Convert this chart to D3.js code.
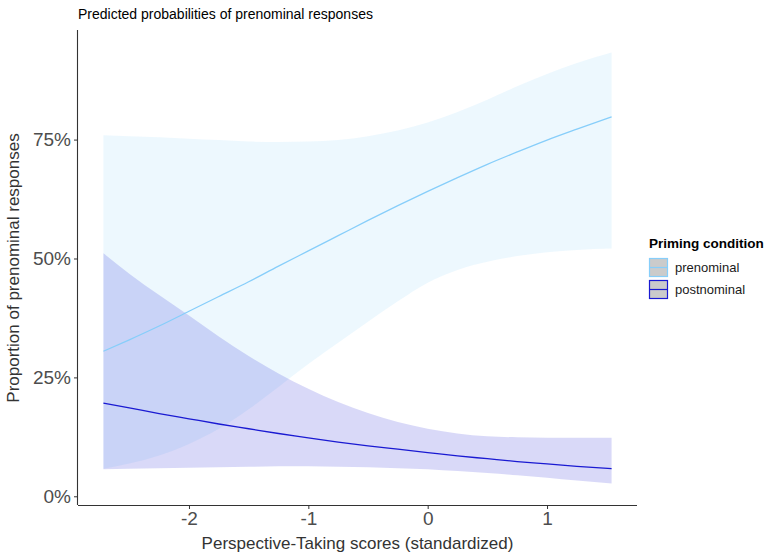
<!DOCTYPE html>
<html>
<head>
<meta charset="utf-8">
<script src="https://cdn.jsdelivr.net/npm/d3@7"></script>
<style>
  body { margin: 0; background: #fff; }
  text { font-family: "Liberation Sans", Arial, sans-serif; }
  .axis path, .axis line { stroke: #333; }
  .axis text { fill: #4d4d4d; font-size: 19px; }
</style>
</head>
<body>
<svg id="chart"></svg>
<script>
// perspective-taking score grid (standardized)
const xVals = [-2.717, -2.5, -2.25, -2, -1.75, -1.5, -1.25, -1, -0.75, -0.5, -0.25, 0, 0.25, 0.5, 0.75, 1, 1.25, 1.541];

// prenominal priming: fitted probability and CI
const preFit = [0.305, 0.329, 0.358, 0.389, 0.420, 0.451, 0.484, 0.516, 0.548, 0.580, 0.611, 0.641, 0.670, 0.698, 0.724, 0.749, 0.772, 0.798];
const preLow = [0.058, 0.069, 0.086, 0.110, 0.142, 0.183, 0.230, 0.278, 0.323, 0.367, 0.410, 0.449, 0.476, 0.493, 0.505, 0.513, 0.518, 0.521];
const preHigh = [0.759, 0.757, 0.755, 0.752, 0.749, 0.746, 0.745, 0.746, 0.749, 0.757, 0.769, 0.786, 0.808, 0.834, 0.862, 0.888, 0.911, 0.933];

// postnominal priming
const postFit = [0.196, 0.186, 0.174, 0.163, 0.152, 0.142, 0.132, 0.123, 0.114, 0.106, 0.099, 0.092, 0.085, 0.079, 0.073, 0.068, 0.063, 0.058];
const postLow = [0.057, 0.058, 0.059, 0.060, 0.061, 0.062, 0.063, 0.063, 0.062, 0.061, 0.059, 0.057, 0.053, 0.049, 0.044, 0.039, 0.033, 0.027];
const postHigh = [0.511, 0.468, 0.423, 0.380, 0.336, 0.295, 0.258, 0.226, 0.198, 0.175, 0.156, 0.142, 0.132, 0.126, 0.124, 0.123, 0.123, 0.123];

const groups = ["prenominal", "postnominal"];
const xTicks = [-2, -1, 0, 1];
const yTicks = [0, 0.25, 0.5, 0.75];

const lineColor = { prenominal: "#87cefa", postnominal: "#1a1ad2" };
const fillColor = { prenominal: "#87cefa", postnominal: "#0000cd" };

const series = [
  { name: "prenominal", fit: preFit, low: preLow, high: preHigh },
  { name: "postnominal", fit: postFit, low: postLow, high: postHigh }
].map(s => ({
  name: s.name,
  values: xVals.map((x, i) => ({ x: x, fit: s.fit[i], low: s.low[i], high: s.high[i] }))
}));

const svgWidth = 765, svgHeight = 553;
const margin = { top: 31, right: 128, bottom: 48, left: 78 };

const svg = d3.select("#chart")
  .attr("width", svgWidth)
  .attr("height", svgHeight);

// ggplot style 5% expansion on both axes
const xExt = d3.extent(xVals);
const xPad = (xExt[1] - xExt[0]) * 0.05;
const allY = preLow.concat(preHigh, postLow, postHigh);
const yExt = d3.extent(allY);
const yPad = (yExt[1] - yExt[0]) * 0.05;

const xScale = d3.scaleLinear()
  .domain([xExt[0] - xPad, xExt[1] + xPad])
  .range([margin.left, svgWidth - margin.right]);

const yScale = d3.scaleLinear()
  .domain([yExt[0] - yPad, yExt[1] + yPad])
  .range([svgHeight - margin.bottom, margin.top]);

const area = d3.area()
  .x(d => xScale(d.x))
  .y0(d => yScale(d.low))
  .y1(d => yScale(d.high))
  .curve(d3.curveMonotoneX);

const line = d3.line()
  .x(d => xScale(d.x))
  .y(d => yScale(d.fit))
  .curve(d3.curveMonotoneX);

svg.selectAll(".ribbon")
  .data(series)
  .enter()
  .append("path")
  .attr("class", "ribbon")
  .attr("d", d => area(d.values))
  .attr("fill", d => fillColor[d.name])
  .attr("fill-opacity", 0.15);

svg.selectAll(".fit")
  .data(series)
  .enter()
  .append("path")
  .attr("class", "fit")
  .attr("d", d => line(d.values))
  .attr("fill", "none")
  .attr("stroke", d => lineColor[d.name])
  .attr("stroke-width", 1.3);

// axes
const xAxis = d3.axisBottom(xScale)
  .tickValues(xTicks)
  .tickSize(4)
  .tickPadding(3)
  .tickFormat(d => String(d));//plain hyphen like R

svg.append("g")
  .attr("class", "axis")
  .attr("transform", `translate(0, ${svgHeight - margin.bottom})`)
  .call(xAxis)
  .call(g => g.select(".domain").attr("d", `M${margin.left},0.5H${svgWidth - margin.right}`).attr("stroke-width", 1.1));

const yAxis = d3.axisLeft(yScale)
  .tickValues(yTicks)
  .tickSize(4)
  .tickPadding(3)
  .tickFormat(d3.format(".0%"));

svg.append("g")
  .attr("class", "axis")
  .attr("transform", `translate(${margin.left}, 0)`)
  .call(yAxis)
  .call(g => g.select(".domain").attr("d", `M-0.5,${margin.top - 1}V${svgHeight - margin.bottom}`).attr("stroke-width", 1.1));

svg.selectAll(".axis text").style("font-family", "'Liberation Sans', Arial, sans-serif");

// titles
svg.append("text")
  .attr("x", margin.left)
  .attr("y", 19)
  .attr("font-size", "14px")
  .attr("fill", "#000")
  .text("Predicted probabilities of prenominal responses");

svg.append("text")
  .attr("x", (margin.left + svgWidth - margin.right) / 2)
  .attr("y", 549)
  .attr("text-anchor", "middle")
  .attr("font-size", "17px")
  .attr("fill", "#333")
  .text("Perspective-Taking scores (standardized)");

svg.append("text")
  .attr("transform", "rotate(-90)")
  .attr("x", -268)
  .attr("y", 19)
  .attr("text-anchor", "middle")
  .attr("font-size", "17px")
  .attr("fill", "#333")
  .text("Proportion of prenominal responses");

// legend
const legend = svg.append("g")
  .attr("transform", "translate(649, 0)");

legend.append("text")
  .attr("x", 0)
  .attr("y", 248)
  .attr("font-size", "13.5px")
  .attr("font-weight", "bold")
  .text("Priming condition");

const keys = legend.selectAll(".key")
  .data(groups)
  .enter()
  .append("g")
  .attr("class", "key")
  .attr("transform", (d, i) => `translate(0, ${258 + i * 22})`);

keys.append("rect")
  .attr("x", 0.5)
  .attr("y", 0.5)
  .attr("width", 18)
  .attr("height", 18)
  .attr("fill", "#cbcbcb")
  .attr("stroke", d => lineColor[d])
  .attr("stroke-width", 1.2);

keys.append("line")
  .attr("x1", 0.5)
  .attr("x2", 18.5)
  .attr("y1", 9.5)
  .attr("y2", 9.5)
  .attr("stroke", d => lineColor[d])
  .attr("stroke-width", 1.2);

keys.append("text")
  .attr("x", 26)
  .attr("y", 14)
  .attr("font-size", "13px")
  .attr("fill", "#1a1a1a")
  .text(d => d);
</script>
</body>
</html>
